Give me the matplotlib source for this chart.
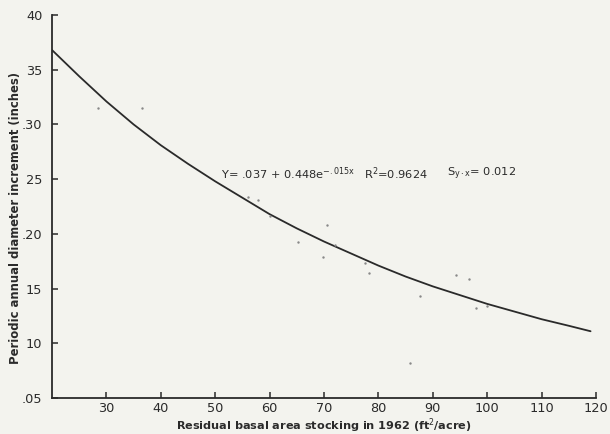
import matplotlib
matplotlib.use("Agg")
import matplotlib.pyplot as plt

# Observed points (basal area, diameter increment in hundredths of inch)
obs_x = [28.4, 36.6, 56.0, 57.9, 60.0, 65.2, 69.9, 70.5, 72.1, 77.6, 78.2,
         85.9, 87.7, 94.2, 96.7, 97.9, 100.0]
obs_y = [31.5, 31.5, 23.4, 23.05, 21.6, 19.3, 17.9, 20.85, 19.0, 17.3, 16.4,
         8.2, 14.35, 16.2, 15.85, 13.2, 13.4]

# Fitted curve
curve_x = [20, 25, 30, 35, 40, 45, 50, 55, 60, 65, 70, 75, 80, 85, 90, 95,
           100, 105, 110, 115, 119]
curve_y = [36.8, 34.4, 32.1, 30.0, 28.1, 26.4, 24.8, 23.3, 21.8, 20.5, 19.3,
           18.2, 17.1, 16.1, 15.2, 14.4, 13.6, 12.9, 12.2, 11.6, 11.1]

x_ticks = [30, 40, 50, 60, 70, 80, 90, 100, 110, 120]
y_ticks = [5, 10, 15, 20, 25, 30, 35, 40]
y_tick_labels = [".05", "10", "15", ".20", "25", ".30", "35", "40"]

bg = "#f3f3ee"
ink = "#2a2a2a"

fig = plt.figure(figsize=(6.10, 4.34), dpi=100, facecolor=bg)
ax = fig.add_axes([52 / 610, 1 - 398 / 434, (596 - 52) / 610, (398 - 15) / 434])
ax.set_facecolor(bg)

ax.plot(curve_x, curve_y, color=ink, lw=1.3, solid_capstyle="round",
        solid_joinstyle="round")
ax.scatter(obs_x, obs_y, s=3, color="#888888", zorder=3, linewidths=0)

ax.set_xlim(20, 120)
ax.set_ylim(5, 40)
ax.set_xticks(x_ticks)
ax.set_xticklabels([str(t) for t in x_ticks])
ax.set_yticks(y_ticks)
ax.set_yticklabels(y_tick_labels)

for s in ["top", "right"]:
    ax.spines[s].set_visible(False)
for s in ["left", "bottom"]:
    ax.spines[s].set_color(ink)
    ax.spines[s].set_linewidth(1.3)

ax.tick_params(direction="in", length=4, width=1.1, color=ink,
               labelsize=9.3, labelcolor=ink)
ax.tick_params(axis="x", pad=3)
ax.tick_params(axis="y", pad=7)

eq_fs = 8.2
ax.text(51.0, 25.5, r"Y= .037 + 0.448e$^{-.015\mathrm{x}}$",
        fontsize=eq_fs, color=ink, va="center", ha="left")
ax.text(77.3, 25.5, r"R$^2$=0.9624",
        fontsize=eq_fs, color=ink, va="center", ha="left")
ax.text(92.6, 25.5, r"S$_{\mathrm{y\cdot x}}$= 0.012",
        fontsize=eq_fs, color=ink, va="center", ha="left")

fig.text(324 / 610, 1 - 425.5 / 434,
         "Residual basal area stocking in 1962 (ft$^2$/acre)",
         fontsize=8.1, color=ink, fontweight="semibold",
         ha="center", va="center")
fig.text(16 / 610, 1 - 218 / 434,
         "Periodic annual diameter increment (inches)",
         fontsize=8.4, color=ink, fontweight="semibold",
         ha="center", va="center", rotation=90)

fig.savefig("out.png", dpi=100, facecolor=bg)
